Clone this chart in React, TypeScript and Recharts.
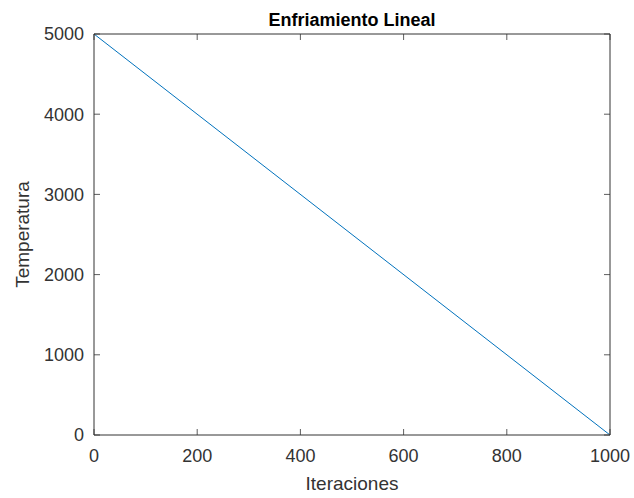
import * as React from 'react'
import { LineChart, Line, XAxis, YAxis } from 'recharts'

const iteraciones = [0, 1000]
const temperatura = [5000, 0]
const xTicks = [0, 200, 400, 600, 800, 1000]
const yTicks = [0, 1000, 2000, 3000, 4000, 5000]

const data = iteraciones.map((it, i) => ({ it, temp: temperatura[i] }))

const AXIS = '#333333'
const FONT = 'Liberation Sans, Arial, Helvetica, sans-serif'
const TICK_LEN = 6

function BottomTick({ x, y, payload }: any) {
  return (
    <g>
      <line x1={x} y1={y} x2={x} y2={y - TICK_LEN} stroke={AXIS} strokeWidth={0.8} />
      <text x={x} y={y + 27} textAnchor="middle" fontSize={18} fill={AXIS} fontFamily={FONT}>
        {payload.value}
      </text>
    </g>
  )
}

function TopTick({ x, y }: any) {
  return <line x1={x} y1={y} x2={x} y2={y + TICK_LEN} stroke={AXIS} strokeWidth={0.8} />
}

function LeftTick({ x, y, payload }: any) {
  return (
    <g>
      <line x1={x} y1={y} x2={x + TICK_LEN} y2={y} stroke={AXIS} strokeWidth={0.8} />
      <text x={x - 10} y={y} dy="0.36em" textAnchor="end" fontSize={18} fill={AXIS} fontFamily={FONT}>
        {payload.value}
      </text>
    </g>
  )
}

function RightTick({ x, y }: any) {
  return <line x1={x} y1={y} x2={x - TICK_LEN} y2={y} stroke={AXIS} strokeWidth={0.8} />
}

export default function App() {
  return (
    <div style={{ position: 'absolute', left: 0, top: 0, width: 634, height: 498, background: '#fff' }}>
      <LineChart width={634} height={498} data={data} margin={{ top: 33, right: 23, bottom: 0, left: 0 }}>
        <XAxis
          dataKey="it"
          type="number"
          domain={[0, 1000]}
          ticks={xTicks}
          height={63}
          tickSize={0}
          tickMargin={0}
          tickLine={false}
          tick={<BottomTick />}
          axisLine={{ stroke: AXIS, strokeWidth: 1 }}
          label={({ viewBox }: any) => (
            <text
              x={viewBox.x + viewBox.width / 2}
              y={viewBox.y + viewBox.height - 8}
              textAnchor="middle"
              fontSize={19}
              fill={AXIS}
              fontFamily={FONT}
            >
              Iteraciones
            </text>
          )}
        />
        <XAxis
          xAxisId="top"
          dataKey="it"
          orientation="top"
          type="number"
          domain={[0, 1000]}
          ticks={xTicks}
          height={1}
          tickSize={0}
          tickMargin={0}
          tickLine={false}
          tick={<TopTick />}
          axisLine={{ stroke: AXIS, strokeWidth: 1 }}
          label={({ viewBox }: any) => (
            <text
              x={viewBox.x + viewBox.width / 2}
              y={viewBox.y - 7}
              textAnchor="middle"
              fontSize={18}
              fontWeight="bold"
              fill="#000"
              fontFamily={FONT}
            >
              Enfriamiento Lineal
            </text>
          )}
        />
        <YAxis
          type="number"
          domain={[0, 5000]}
          ticks={yTicks}
          width={94}
          tickSize={0}
          tickMargin={0}
          tickLine={false}
          tick={<LeftTick />}
          axisLine={{ stroke: AXIS, strokeWidth: 1 }}
          label={({ viewBox }: any) => (
            <text
              x={viewBox.x + 22}
              y={viewBox.y + viewBox.height / 2}
              transform={`rotate(-90 ${viewBox.x + 22} ${viewBox.y + viewBox.height / 2})`}
              textAnchor="middle"
              dy="0.36em"
              fontSize={19}
              fill={AXIS}
              fontFamily={FONT}
            >
              Temperatura
            </text>
          )}
        />
        <YAxis
          yAxisId="right"
          dataKey="temp"
          orientation="right"
          type="number"
          domain={[0, 5000]}
          ticks={yTicks}
          width={1}
          tickSize={0}
          tickMargin={0}
          tickLine={false}
          tick={<RightTick />}
          axisLine={{ stroke: AXIS, strokeWidth: 1 }}
        />
        {/* invisible twin so the mirrored top/right axes get drawn */}
        <Line
          xAxisId="top"
          yAxisId="right"
          type="linear"
          dataKey="temp"
          stroke="none"
          dot={false}
          legendType="none"
          isAnimationActive={false}
        />
        <Line
          type="linear"
          dataKey="temp"
          stroke="#0072BD"
          strokeWidth={1}
          dot={false}
          isAnimationActive={false}
        />
      </LineChart>
    </div>
  )
}
